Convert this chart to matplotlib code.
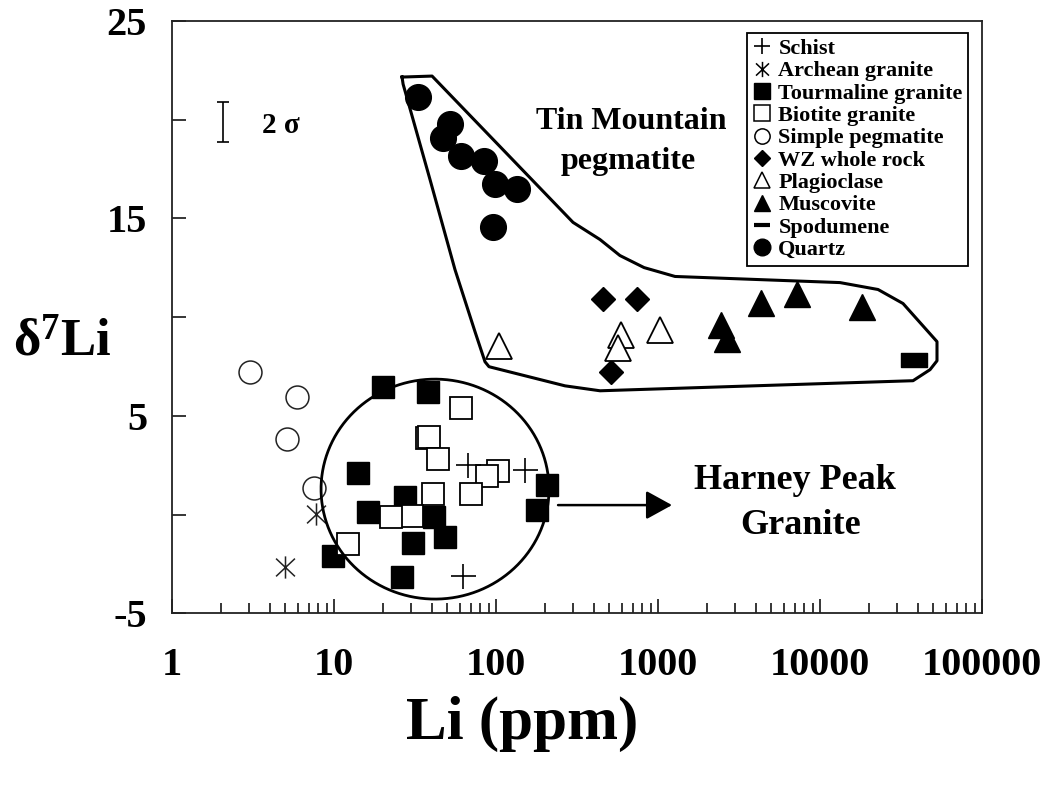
import numpy as np
import matplotlib
matplotlib.use('Agg')
import matplotlib.pyplot as plt
from matplotlib.lines import Line2D
from matplotlib.path import Path
from matplotlib.ticker import LogLocator, MultipleLocator, FuncFormatter, NullFormatter

plt.rcParams['font.family'] = ['Liberation Serif', 'DejaVu Serif']
plt.rcParams['font.weight'] = 'bold'
plt.rcParams['mathtext.fontset'] = 'custom'
plt.rcParams['mathtext.rm'] = 'Liberation Serif:bold'
plt.rcParams['mathtext.it'] = 'Liberation Serif:bold'
plt.rcParams['mathtext.bf'] = 'Liberation Serif:bold'

# ---------------- data (Li ppm, delta7Li) ----------------
schist_li = [67.5, 151, 62.9]
schist_d7 = [2.51, 2.25, -3.12]

archean_li = [7.74, 4.98]
archean_d7 = [0.03, -2.64]

tourm_li = [20.2, 37.9, 14.0, 16.3, 27.4, 41.6, 30.9, 48.4, 9.82, 26.2, 207, 178]
tourm_d7 = [6.44, 6.22, 2.12, 0.11, 0.90, -0.11, -1.43, -1.12, -2.10, -3.18, 1.51, 0.23]

biotite_li = [60.6, 37.4, 38.8, 43.6, 103.3, 87.6, 70.1, 41.0, 30.2, 22.5, 12.2]
biotite_d7 = [5.41, 3.89, 3.93, 2.81, 2.20, 1.95, 1.02, 1.04, -0.06, -0.14, -1.51]

simple_li = [3.03, 5.89, 5.15, 7.56]
simple_d7 = [7.20, 5.97, 3.82, 1.36]

wz_li = [460, 744, 510]
wz_d7 = [10.90, 10.90, 7.20]

plag_li = [104.8, 591, 563, 1033]
plag_d7 = [8.52, 9.07, 8.43, 9.36]

musc_li = [4306, 7177, 18160, 2438, 2661]
musc_d7 = [10.72, 11.19, 10.53, 9.59, 8.89]

spod_li = [37930]
spod_d7 = [7.84]

quartz_li = [33.0, 52.0, 47.1, 60.8, 84.3, 98.6, 134.8, 95.8]
quartz_d7 = [21.15, 19.78, 19.07, 18.16, 17.91, 16.74, 16.49, 14.56]

# Tin Mountain field outline
tm_li = [26.3, 40.3, 298.7, 438.5, 582, 820, 1274, 13280, 22800, 32530, 52720,
         52720, 47750, 37500, 24150, 438.5, 266.7, 90.5, 85.5, 74.2, 55.8, 39.1, 26.7, 26.3]
tm_d7 = [22.16, 22.21, 14.80, 13.93, 13.12, 12.51, 12.06, 11.75, 11.40, 10.69, 8.76,
         7.79, 7.34, 6.78, 6.73, 6.27, 6.52, 7.49, 7.74, 9.26, 12.41, 16.98, 21.80, 22.16]

# Harney Peak field (circle in log-Li / delta space): center log10(Li), center d7, semi-axes
hp_center = (1.6235, 1.29)
hp_radii = (0.7035, 5.57)

x_ticks = [1, 10, 100, 1000, 10000, 100000]
y_labeled = [-5, 5, 15, 25]

# ---------------- figure ----------------
fig = plt.figure(figsize=(10.52, 7.89), dpi=100)
ax = fig.add_axes([0.1635, 0.2227, 0.77, 0.7507])
ax.set_xscale('log')
ax.set_xlim(1, 100000)
ax.set_ylim(-5, 25)

# custom markers
ast_path = Path([(0, -1), (0, 1), (-0.85, -0.8), (0.85, 0.8), (-0.85, 0.8), (0.85, -0.8)],
                [Path.MOVETO, Path.LINETO, Path.MOVETO, Path.LINETO, Path.MOVETO, Path.LINETO])
rect_path = Path([(-1, -0.54), (1, -0.54), (1, 0.54), (-1, 0.54), (-1, -0.54)],
                 [Path.MOVETO, Path.LINETO, Path.LINETO, Path.LINETO, Path.CLOSEPOLY])

# Tin Mountain polygon
ax.plot(tm_li, tm_d7, color='black', lw=2.2, zorder=2)

ax.plot(tourm_li, tourm_d7, ls='none', marker='s', ms=16.5, mfc='black', mec='black', zorder=4)
ax.plot(biotite_li, biotite_d7, ls='none', marker='s', ms=16, mfc='white', mec='black', mew=1.3, zorder=5)
ax.plot(schist_li, schist_d7, ls='none', marker='+', ms=18, mec='black', mew=1.2, zorder=6)
ax.plot(archean_li, archean_d7, ls='none', marker=ast_path, ms=16, mfc='none', mec='#222222', mew=1.1, zorder=6)
ax.plot(simple_li, simple_d7, ls='none', marker='o', ms=16.5, mfc='none', mec='#222222', mew=1.1, zorder=6)
ax.plot(wz_li, wz_d7, ls='none', marker='D', ms=12.2, mfc='black', mec='black', zorder=4)
ax.plot(plag_li, plag_d7, ls='none', marker='^', ms=18.5, mfc='white', mec='black', mew=1.3, zorder=5)
ax.plot(musc_li, musc_d7, ls='none', marker='^', ms=18.5, mfc='black', mec='black', zorder=4)
ax.plot(spod_li, spod_d7, ls='none', marker=rect_path, ms=18.7, mfc='black', mec='black', zorder=4)
ax.plot(quartz_li, quartz_d7, ls='none', marker='o', ms=18.5, mfc='black', mec='black', zorder=4)

# Harney Peak circle
t = np.linspace(0, 2 * np.pi, 400)
ax.plot(10 ** (hp_center[0] + hp_radii[0] * np.cos(t)), hp_center[1] + hp_radii[1] * np.sin(t),
        color='black', lw=2.0, zorder=7)

# arrow
ax.annotate('', xy=(1220, 0.48), xytext=(241.5, 0.48),
            arrowprops=dict(arrowstyle='-|>,head_length=0.4,head_width=0.22', lw=1.8,
                            color='black', mutation_scale=40, shrinkA=0, shrinkB=0))

# 2 sigma bar
ax.errorbar([2.06], [19.87], yerr=[1.02], fmt='none', ecolor='black', elinewidth=1.2, capsize=4.3, capthick=1.2)
ax.text(3.59, 19.73, '2 σ', fontsize=21, fontweight='bold', ha='left', va='center')

# annotations
ax.text(681, 19.93, 'Tin Mountain', fontsize=23, fontweight='bold', ha='center', va='center')
ax.text(653, 17.86, 'pegmatite', fontsize=23, fontweight='bold', ha='center', va='center')
ax.text(7010, 1.75, 'Harney Peak', fontsize=26, fontweight='bold', ha='center', va='center')
ax.text(7530, -0.53, 'Granite', fontsize=26, fontweight='bold', ha='center', va='center')

# axes styling
for s in ax.spines.values():
    s.set_linewidth(1.3)
    s.set_color('#222222')
ax.xaxis.set_major_locator(LogLocator(base=10, numticks=10))
ax.xaxis.set_minor_locator(LogLocator(base=10, subs=np.arange(2, 10), numticks=10))
ax.xaxis.set_minor_formatter(NullFormatter())
ax.set_xticks(x_ticks)
ax.set_xticklabels([str(v) for v in x_ticks])
ax.yaxis.set_major_locator(MultipleLocator(5))
ax.yaxis.set_major_formatter(FuncFormatter(lambda v, p: ('%d' % v) if int(round(v)) in y_labeled else ''))
ax.tick_params(axis='x', which='major', direction='in', length=10, width=1.1, labelsize=29, pad=24,
               top=False, bottom=True)
ax.tick_params(axis='x', which='minor', direction='in', length=7.5, width=1.1, top=False, bottom=True)
ax.tick_params(axis='y', which='major', direction='in', length=10, width=1.1, labelsize=29, pad=18,
               left=True, right=False)
for lab in ax.get_xticklabels() + ax.get_yticklabels():
    lab.set_fontweight('bold')

fig.text(522 / 1052, 1 - 724 / 789, 'Li (ppm)', fontsize=44, fontweight='bold', ha='center', va='center')
fig.text(62 / 1052, 1 - 343 / 789, 'δ$^7$Li', fontsize=38, fontweight='bold', ha='center', va='center')

# legend
handles = [
    Line2D([], [], ls='none', marker='+', ms=12, mec='black', mew=1.2),
    Line2D([], [], ls='none', marker=ast_path, ms=11, mfc='none', mec='black', mew=1.1),
    Line2D([], [], ls='none', marker='s', ms=11, mfc='black', mec='black'),
    Line2D([], [], ls='none', marker='s', ms=11, mfc='white', mec='black', mew=1.1),
    Line2D([], [], ls='none', marker='o', ms=11, mfc='white', mec='black', mew=1.1),
    Line2D([], [], ls='none', marker='D', ms=8, mfc='black', mec='black'),
    Line2D([], [], ls='none', marker='^', ms=12, mfc='white', mec='black', mew=1.1),
    Line2D([], [], ls='none', marker='^', ms=12, mfc='black', mec='black'),
    Line2D([], [], ls='none', marker='_', ms=11, mec='black', mew=3),
    Line2D([], [], ls='none', marker='o', ms=12, mfc='black', mec='black'),
]
labels = ['Schist', 'Archean granite', 'Tourmaline granite', 'Biotite granite', 'Simple pegmatite',
          'WZ whole rock', 'Plagioclase', 'Muscovite', 'Spodumene', 'Quartz']
leg = ax.legend(handles, labels, loc='upper right', bbox_to_anchor=(0.983, 0.980), borderaxespad=0,
                frameon=True, fancybox=False, edgecolor='black', framealpha=1,
                handlelength=0.8, handletextpad=0.35, labelspacing=0.08, borderpad=0.25,
                prop={'weight': 'bold', 'size': 16})
leg.get_frame().set_linewidth(1.3)
leg.set_zorder(10)

fig.savefig('out.png', dpi=100)
